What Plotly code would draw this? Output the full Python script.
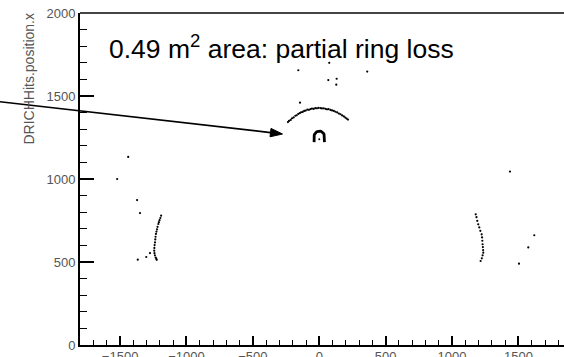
import plotly.graph_objects as go

# ---- data ----
small_ring_x = [39, 39, 39, 38, 36, 32, 28, 22, 15, 8, 0, -8, -15, -22, -28, -32, -36, -38, -39, -39, -39]
small_ring_y = [1222, 1240, 1257, 1264, 1269, 1275, 1279, 1283, 1286, 1288, 1288, 1288, 1286, 1283, 1279, 1275, 1269, 1264, 1257, 1240, 1222]
ring_dot_x = [0]
ring_dot_y = [1240]

big_arc_x = [-236, -228, -215, -205, -193, -180, -170, -158, -146, -137, -125, -114, -102, -90, -78, -66, -55, -42, -30, -18, -6,
             8, 20, 33, 46, 58, 70, 84, 96, 110, 122, 135, 148, 160, 172, 185, 196, 206, 216]
big_arc_y = [1343, 1350, 1356, 1366, 1371, 1381, 1384, 1392, 1397, 1402, 1404, 1410, 1412, 1418, 1417, 1421, 1424, 1422, 1427, 1426, 1429,
             1427, 1425, 1426, 1423, 1420, 1421, 1416, 1413, 1410, 1405, 1401, 1394, 1390, 1383, 1377, 1370, 1364, 1358]

left_arc_x = [-1191, -1197, -1203, -1208, -1212, -1218, -1222, -1226, -1230, -1233, -1235, -1237, -1240, -1242, -1243, -1241, -1238, -1232, -1228, -1224]
left_arc_y = [779, 765, 752, 740, 729, 712, 697, 683, 669, 652, 636, 618, 602, 585, 568, 553, 540, 527, 520, 513]

right_arc_x = [1178, 1184, 1190, 1197, 1205, 1213, 1223, 1226, 1228, 1230, 1232, 1234, 1235, 1230, 1224, 1215]
right_arc_y = [787, 770, 748, 727, 708, 688, 667, 648, 628, 607, 590, 572, 556, 540, 522, 506]

stray_x = [75, -158, 361, 68, 131, 128, -145, -1439, -1522, -1372, -1350, -1367, -1303, -1275, 1436, 1619, 1574, 1504]
stray_y = [1700, 1655, 1647, 1596, 1604, 1568, 1460, 1133, 1000, 873, 795, 514, 530, 554, 1045, 661, 588, 490]

x_range = [-1802, 1843]
y_range = [0, 2000]
x_ticks = [-1500, -1000, -500, 0, 500, 1000, 1500]
y_ticks = [0, 500, 1000, 1500, 2000]

annot_text = "0.49 m<sup>2</sup> area: partial ring loss"
y_title = "DRICHHits.position.x"

# layout geometry (pixels)
W, H = 564, 357
L, R, T, B = 80, 0, 13, 12
PW, PH = W - L - R, H - T - B


def px2paper(px, py):
    return (px - L) / PW, (H - B - py) / PH


fig = go.Figure()
fig.add_trace(go.Scatter(x=big_arc_x + left_arc_x + right_arc_x + stray_x,
                         y=big_arc_y + left_arc_y + right_arc_y + stray_y,
                         mode="markers", marker=dict(size=2.2, color="black"),
                         showlegend=False, hoverinfo="skip"))
fig.add_trace(go.Scatter(x=small_ring_x, y=small_ring_y, mode="lines",
                         line=dict(color="black", width=2.8), showlegend=False, hoverinfo="skip"))
fig.add_trace(go.Scatter(x=ring_dot_x, y=ring_dot_y, mode="markers",
                         marker=dict(size=2, color="black"), showlegend=False, hoverinfo="skip"))

tickfont = dict(family="Liberation Sans, Arial, sans-serif", size=13, color="#555")
fig.update_xaxes(range=x_range, tickvals=x_ticks, ticktext=[("\u2212" + str(-v)) if v < 0 else str(v) for v in x_ticks],
                 ticks="inside", ticklen=9, tickwidth=1.5, tickcolor="black", ticklabelstandoff=-2,
                 minor=dict(dtick=100, tick0=0, ticks="inside", ticklen=5, tickwidth=1.2, tickcolor="black"),
                 showline=True, linecolor="black", linewidth=2, mirror=False, automargin=False,
                 showgrid=False, zeroline=False, tickfont=tickfont)
fig.update_yaxes(range=y_range, tickvals=y_ticks,
                 ticks="inside", ticklen=14, tickwidth=1.5, tickcolor="black",
                 minor=dict(dtick=100, tick0=0, ticks="inside", ticklen=7, tickwidth=1.2, tickcolor="black"),
                 showline=True, linecolor="black", linewidth=2, mirror=False, automargin=False,
                 showgrid=False, zeroline=False, tickfont=tickfont)

# top frame line
fig.add_shape(type="line", xref="paper", yref="paper", x0=0, x1=1, y0=1, y1=1,
              line=dict(color="#444", width=2))

# arrow (line + filled head)
tail = px2paper(-3, 101.4)
base = px2paper(270.5, 132.6)
tip = px2paper(282.5, 134.0)
c1 = px2paper(270.0, 136.8)
c2 = px2paper(271.0, 128.4)
fig.add_shape(type="line", xref="paper", yref="paper", x0=tail[0], y0=tail[1], x1=base[0], y1=base[1],
              line=dict(color="black", width=1.7))
fig.add_shape(type="path", xref="paper", yref="paper",
              path=f"M {tip[0]} {tip[1]} L {c1[0]} {c1[1]} L {c2[0]} {c2[1]} Z",
              fillcolor="black", line=dict(color="black", width=1))

ax, ay = px2paper(107, 47)
fig.add_annotation(text=annot_text, xref="paper", yref="paper", x=ax, y=ay,
                   xanchor="left", yanchor="middle", showarrow=False,
                   font=dict(family="Liberation Sans, Arial, sans-serif", size=26.5, color="black"))
tx, ty = px2paper(29, 12)
fig.add_annotation(text=y_title, xref="paper", yref="paper", x=tx, y=ty,
                   xanchor="center", yanchor="top", textangle=-90, showarrow=False,
                   font=dict(family="Liberation Sans, Arial, sans-serif", size=14, color="#555"))

fig.update_layout(width=W, height=H, margin=dict(l=L, r=R, t=T, b=B),
                  plot_bgcolor="white", paper_bgcolor="white")
fig.write_html("out.html")
